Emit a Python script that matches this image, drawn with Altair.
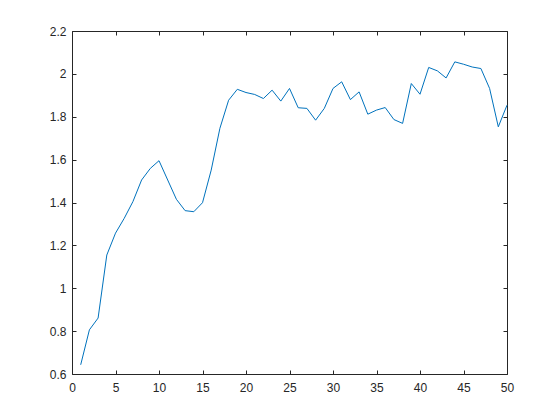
import altair as alt
import pandas as pd

xs = list(range(1, 51))
ys = [0.643, 0.806, 0.861, 1.155, 1.257, 1.326, 1.404, 1.505, 1.559, 1.595,
      1.505, 1.415, 1.362, 1.357, 1.399, 1.551, 1.746, 1.877, 1.928, 1.913,
      1.904, 1.885, 1.924, 1.873, 1.932, 1.842, 1.839, 1.784, 1.839, 1.932,
      1.963, 1.880, 1.916, 1.812, 1.831, 1.843, 1.787, 1.769, 1.955, 1.905,
      2.030, 2.014, 1.981, 2.056, 2.045, 2.032, 2.025, 1.932, 1.753, 1.854]
x_ticks = [0, 5, 10, 15, 20, 25, 30, 35, 40, 45, 50]
y_ticks = [0.6, 0.8, 1.0, 1.2, 1.4, 1.6, 1.8, 2.0, 2.2]

df = pd.DataFrame({"x": xs, "y": ys})

FONT = "Liberation Sans"
TXT = "#262626"

def ax(orient, values, labels=True, fmt=None):
    kw = dict(orient=orient, values=values, title=None, grid=False, domain=False,
              ticks=True, tickSize=4, offset=-4, tickColor=TXT, tickWidth=1,
              labels=labels, labelFont=FONT, labelFontSize=12, labelColor=TXT,
              labelFlush=False, labelOverlap=False,
              labelPadding=6 if orient in ("left", "right") else 8)
    if fmt:
        kw["format"] = fmt
    return alt.Axis(**kw)

xscale = alt.Scale(domain=[0, 50], nice=False, zero=False)
yscale = alt.Scale(domain=[0.6, 2.2], nice=False, zero=False)

main = alt.Chart(df).mark_line(color="#0072BD", strokeWidth=1).encode(
    x=alt.X("x:Q", scale=xscale, axis=ax("bottom", x_ticks)),
    y=alt.Y("y:Q", scale=yscale, axis=ax("left", y_ticks, fmt=".1~f")),
)
mirror = alt.Chart(df).mark_line(opacity=0).encode(
    x=alt.X("x:Q", scale=xscale, axis=ax("top", x_ticks, labels=False)),
    y=alt.Y("y:Q", scale=yscale, axis=ax("right", y_ticks, labels=False)),
)

chart = alt.layer(main, mirror).properties(
    width=435, height=343,
    background="white",
    autosize=alt.AutoSizeParams(type="none"),
    padding={"left": 64, "top": 23, "right": 10, "bottom": 30},
).configure_view(stroke="#262626", strokeWidth=1)

chart.save("out.html", embed_options={"renderer": "svg", "actions": False})
